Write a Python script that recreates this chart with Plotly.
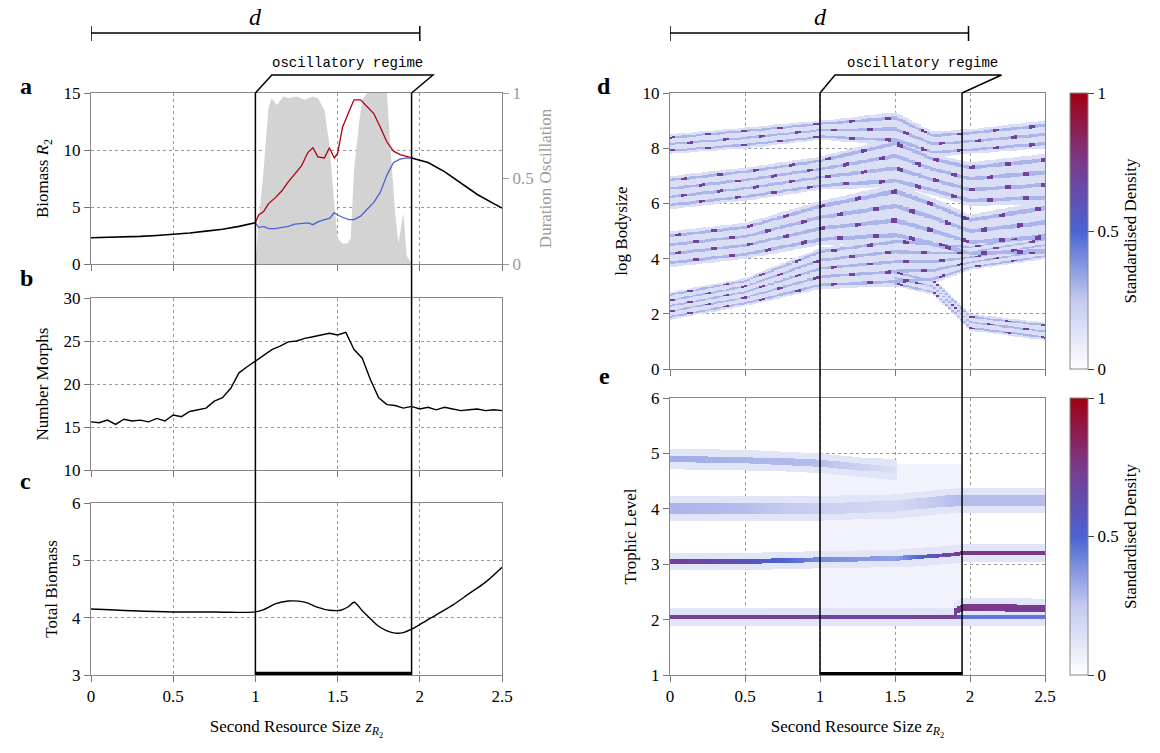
import numpy as np
import plotly.graph_objects as go

# ---------------- data ----------------
# panel a
a_x_left = [0, 0.1, 0.2, 0.3, 0.4, 0.5, 0.6, 0.7, 0.8, 0.9, 1.0]
a_y_left = [2.3, 2.33, 2.37, 2.42, 2.5, 2.6, 2.72, 2.88, 3.05, 3.3, 3.62]
a_x_mid = [1.0, 1.02, 1.05, 1.08, 1.12, 1.16, 1.2, 1.24, 1.28, 1.32, 1.35, 1.38, 1.42, 1.45, 1.48, 1.5,
           1.53, 1.57, 1.6, 1.64, 1.68, 1.72, 1.76, 1.8, 1.84, 1.88, 1.92, 1.95]
a_red = [3.62, 4.3, 4.6, 5.3, 5.8, 6.4, 7.2, 7.9, 8.6, 9.8, 10.2, 9.4, 9.3, 10.2, 9.3, 9.7,
         12.0, 13.4, 14.4, 14.4, 13.8, 13.2, 12.0, 10.7, 9.9, 9.6, 9.45, 9.3]
a_blue = [3.62, 3.2, 3.3, 3.1, 3.1, 3.2, 3.3, 3.5, 3.55, 3.6, 3.45, 3.7, 3.9, 4.0, 4.5, 4.3,
          4.1, 3.9, 3.9, 4.2, 4.8, 5.4, 6.3, 7.8, 8.9, 9.2, 9.3, 9.3]
a_x_right = [1.95, 2.05, 2.15, 2.25, 2.35, 2.45, 2.5]
a_y_right = [9.3, 8.9, 8.1, 7.1, 6.1, 5.3, 4.9]
osc_x = [1.0, 1.02, 1.05, 1.08, 1.1, 1.13, 1.17, 1.2, 1.25, 1.3, 1.35, 1.38, 1.42, 1.45, 1.48, 1.5,
         1.53, 1.56, 1.58, 1.6, 1.63, 1.65, 1.68, 1.74, 1.8, 1.82, 1.85, 1.87, 1.9, 1.92, 1.95]
osc_y = [0.0, 0.25, 0.55, 0.92, 0.97, 0.93, 0.98, 0.97, 0.98, 0.96, 0.98, 0.97, 0.9, 0.7, 0.35, 0.15,
         0.12, 0.12, 0.15, 0.55, 0.82, 0.96, 1.0, 1.0, 1.0, 0.7, 0.3, 0.12, 0.3, 0.05, 0.0]

# panel b
b_x = [round(0.05 * i, 2) for i in range(51)]
b_y = [15.6, 15.5, 15.8, 15.3, 15.9, 15.7, 15.8, 15.6, 16.0, 15.7, 16.4, 16.2, 16.8, 17.0, 17.2, 18.0,
       18.4, 19.5, 21.3, 22.0, 22.7, 23.4, 24.0, 24.4, 24.9, 25.0, 25.3, 25.5, 25.7, 25.9, 25.7, 26.0,
       24.0, 23.0, 20.5, 18.4, 17.6, 17.5, 17.2, 17.4, 17.1, 17.3, 17.0, 17.3, 17.1, 16.9, 17.0, 17.1,
       16.9, 17.0, 16.9]

# panel c
c_x = [0, 0.25, 0.5, 0.75, 1.0, 1.05, 1.12, 1.2, 1.3, 1.38, 1.45, 1.52, 1.57, 1.6, 1.65, 1.7, 1.75,
       1.8, 1.85, 1.9, 1.95, 2.0, 2.1, 2.2, 2.3, 2.4, 2.5]
c_y = [4.15, 4.12, 4.1, 4.1, 4.1, 4.14, 4.24, 4.29, 4.27, 4.18, 4.13, 4.13, 4.2, 4.27, 4.12, 3.98, 3.85,
       3.77, 3.73, 3.74, 3.8, 3.88, 4.05, 4.22, 4.42, 4.62, 4.88]

# panel d: band boundaries (log bodysize) at knots
d_knots = [0, 0.5, 1.0, 1.5, 1.75, 2.0, 2.5]
d_bands_lo = [[7.8, 8.0, 8.3, 8.1, 7.7, 7.8, 8.0],
              [5.8, 6.1, 6.5, 6.6, 6.3, 5.9, 6.0],
              [3.7, 4.0, 4.5, 4.6, 4.3, 4.0, 4.0],
              [1.8, 2.3, 2.9, 3.0, 3.1, 3.6, 4.0],
              [np.nan, np.nan, np.nan, 3.0, 2.7, 1.4, 1.05]]
d_bands_hi = [[8.5, 8.75, 9.0, 9.3, 8.6, 8.7, 9.0],
              [7.0, 7.3, 7.7, 8.4, 7.8, 7.5, 7.8],
              [5.0, 5.3, 6.1, 6.7, 6.2, 5.6, 6.1],
              [2.8, 3.3, 4.4, 4.8, 4.7, 4.5, 5.0],
              [np.nan, np.nan, np.nan, 3.6, 3.3, 2.0, 1.7]]
d_lines = [3, 4, 4, 5, 3]

# panel e: trophic level bands
e_knots = [0, 0.5, 1.0, 1.5, 1.9, 1.95, 2.5]
e_centres = [[2.05, 2.05, 2.05, 2.05, 2.05, 2.05, 2.05],
             [np.nan, np.nan, np.nan, np.nan, 2.15, 2.22, 2.2],
             [3.05, 3.05, 3.08, 3.1, 3.18, 3.2, 3.2],
             [4.0, 4.0, 4.0, 4.05, 4.15, 4.15, 4.15],
             [4.9, 4.88, 4.82, 4.7, np.nan, np.nan, np.nan]]
e_halfw = [0.04, 0.06, 0.04, 0.1, 0.06]
e_level = [[0.72, 0.72, 0.68, 0.68, 0.72, 0.45, 0.45],
           [np.nan, np.nan, np.nan, np.nan, 0.72, 0.76, 0.72],
           [0.72, 0.6, 0.4, 0.35, 0.72, 0.76, 0.76],
           [0.3, 0.28, 0.22, 0.18, 0.28, 0.28, 0.28],
           [0.32, 0.3, 0.28, 0.15, np.nan, np.nan, np.nan]]
e_cloud_x = [1.0, 1.95]
e_cloud_y = [2.1, 4.8]

# ---------------- grids ----------------
gx = np.linspace(0, 2.5, 126)
gyd = np.linspace(0, 10, 401)
zd = np.full((len(gyd), len(gx)), np.nan)
for b, (lo, hi, nl) in enumerate(zip(d_bands_lo, d_bands_hi, d_lines)):
    lo = np.array(lo, float); hi = np.array(hi, float)
    ok = ~np.isnan(lo)
    kx = np.array(d_knots)[ok]
    for j, x in enumerate(gx):
        if x < kx.min() - 1e-9:
            continue
        l = np.interp(x, kx, lo[ok]); h = np.interp(x, kx, hi[ok])
        inside = (gyd >= l) & (gyd <= h)
        pos = (gyd - l) / (h - l) * nl
        k = np.floor(pos)
        frac = pos % 1.0
        stripe = np.abs(frac - 0.5) < 0.16
        red = stripe & (((j // 2 + 3 * k + b) % 6) == 0)
        val = np.where(red, 0.7, np.where(stripe, 0.3, 0.15))
        col = zd[:, j]
        zd[inside, j] = np.fmax(col[inside], val[inside])

gye = np.linspace(1, 6, 301)
ze = np.full((len(gye), len(gx)), np.nan)
for j, x in enumerate(gx):
    if e_cloud_x[0] <= x <= e_cloud_x[1]:
        m = (gye >= e_cloud_y[0]) & (gye <= e_cloud_y[1])
        ze[m, j] = 0.06
for c, hw, lv in zip(e_centres, e_halfw, e_level):
    c = np.array(c, float); lv = np.array(lv, float)
    ok = ~np.isnan(c)
    kx = np.array(e_knots)[ok]
    for j, x in enumerate(gx):
        if x < kx.min() - 1e-9 or x > kx.max() + 1e-9:
            continue
        cc = np.interp(x, kx, c[ok]); vv = np.interp(x, kx, lv[ok])
        core = np.abs(gye - cc) <= hw
        halo = (np.abs(gye - cc) <= hw + 0.12) & ~core
        ze[core, j] = np.fmax(ze[core, j], vv)
        ze[halo, j] = np.fmax(ze[halo, j], 0.12)

cs = [[0, "#ffffff"], [0.25, "#c3c9f0"], [0.5, "#4a63d2"], [0.75, "#7a3a8c"], [1, "#a00012"]]

FONT = "Liberation Serif"
GRID = "#999999"
fig = go.Figure()

# panel a
fig.add_trace(go.Scatter(x=osc_x, y=[v * 15 for v in osc_y], fill="tozeroy", mode="none",
                         fillcolor="#d3d3d3", xaxis="x", yaxis="y", showlegend=False))
fig.add_trace(go.Scatter(x=a_x_mid, y=a_red, mode="lines", line=dict(color="#b00010", width=1.3),
                         xaxis="x", yaxis="y", showlegend=False))
fig.add_trace(go.Scatter(x=a_x_mid, y=a_blue, mode="lines", line=dict(color="#4a63d2", width=1.3),
                         xaxis="x", yaxis="y", showlegend=False))
fig.add_trace(go.Scatter(x=a_x_left, y=a_y_left, mode="lines", line=dict(color="black", width=1.6),
                         xaxis="x", yaxis="y", showlegend=False))
fig.add_trace(go.Scatter(x=a_x_right, y=a_y_right, mode="lines", line=dict(color="black", width=1.6),
                         xaxis="x", yaxis="y", showlegend=False))
fig.add_trace(go.Scatter(x=[0], y=[0], mode="none", xaxis="x", yaxis="y6", showlegend=False, hoverinfo="skip"))
# panel b, c
fig.add_trace(go.Scatter(x=b_x, y=b_y, mode="lines", line=dict(color="black", width=1.4),
                         xaxis="x2", yaxis="y2", showlegend=False))
fig.add_trace(go.Scatter(x=c_x, y=c_y, mode="lines", line=dict(color="black", width=1.4, shape="spline"),
                         xaxis="x3", yaxis="y3", showlegend=False))
fig.add_trace(go.Scatter(x=[1.0, 1.95], y=[3.02, 3.02], mode="lines", line=dict(color="black", width=4),
                         xaxis="x3", yaxis="y3", showlegend=False))
# panel d, e
fig.add_trace(go.Heatmap(x=gx, y=gyd, z=zd, coloraxis="coloraxis", xaxis="x4", yaxis="y4"))
fig.add_trace(go.Heatmap(x=gx, y=gye, z=ze, coloraxis="coloraxis2", xaxis="x5", yaxis="y5"))
fig.add_trace(go.Scatter(x=[1.0, 1.95], y=[1.02, 1.02], mode="lines", line=dict(color="black", width=4),
                         xaxis="x5", yaxis="y5", showlegend=False))

OFF = 8  # page body margin in the browser
def px(p):
    return (p - OFF) / 1160
def py(p):
    return 1 - (p - OFF) / 753
L = [px(91), px(502)]
R = [px(670), px(1045)]
dom = {"a": [py(264), py(93)], "b": [py(470), py(298)], "c": [py(675), py(503)],
       "d": [py(369), py(93)], "e": [py(675), py(398)]}

tf = dict(family=FONT, size=17, color="black")
titf = dict(family=FONT, size=17, color="black")
def xax(domain, anchor, labels, title=None):
    d = dict(domain=domain, anchor=anchor, range=[0, 2.5], tickvals=[0, 0.5, 1, 1.5, 2, 2.5],
             showticklabels=labels, ticks="outside", ticklen=6, tickcolor="#777", showgrid=True,
             gridcolor=GRID, griddash="dot", gridwidth=1, showline=True, linecolor="#888", mirror=True,
             zeroline=False, tickfont=tf, automargin=False)
    if title:
        d["title"] = dict(text=title, font=titf, standoff=14)
    return d
def yax(domain, anchor, rng, tv, title):
    return dict(domain=domain, anchor=anchor, range=rng, tickvals=tv, ticks="outside", ticklen=6,
                tickcolor="#777", showgrid=True, gridcolor=GRID, griddash="dot", showline=True,
                linecolor="#888", mirror=True, zeroline=False, tickfont=tf, automargin=False,
                title=dict(text=title, font=titf, standoff=10))

xt = "Second Resource Size <i>z</i><sub><i>R</i><sub>2</sub></sub>"
layout = dict(
    width=1160, height=753, margin=dict(l=0, r=0, t=0, b=0, autoexpand=False),
    plot_bgcolor="white", paper_bgcolor="white",
    font=dict(family=FONT, size=17, color="black"),
    xaxis=xax(L, "y", False), yaxis=yax(dom["a"], "x", [0, 15], [0, 5, 10, 15], "Biomass <i>R</i><sub>2</sub>"),
    yaxis6=dict(overlaying="y", side="right", anchor="x", range=[0, 1], tickvals=[0, 0.5, 1],
                ticktext=["0", "0.5", "1"], showgrid=False, ticks="outside", ticklen=6, tickcolor="#999",
                tickfont=dict(family=FONT, size=17, color="#999"), zeroline=False, automargin=False,
                title=dict(text="Duration Oscillation", font=dict(family=FONT, size=17, color="#999"), standoff=6)),
    xaxis2=xax(L, "y2", False), yaxis2=yax(dom["b"], "x2", [10, 30], [10, 15, 20, 25, 30], "Number Morphs"),
    xaxis3=xax(L, "y3", True, xt), yaxis3=yax(dom["c"], "x3", [3, 6], [3, 4, 5, 6], "Total Biomass"),
    xaxis4=xax(R, "y4", False), yaxis4=yax(dom["d"], "x4", [0, 10], [0, 2, 4, 6, 8, 10], "log Bodysize"),
    xaxis5=xax(R, "y5", True, xt), yaxis5=yax(dom["e"], "x5", [1, 6], [1, 2, 3, 4, 5, 6], "Trophic Level"),
)
for k, dm in (("coloraxis", "d"), ("coloraxis2", "e")):
    layout[k] = dict(cmin=0, cmax=1, colorscale=cs, colorbar=dict(
        x=px(1060), xanchor="left", thickness=18, len=dom[dm][1] - dom[dm][0], ypad=0,
        y=dom[dm][0], yanchor="bottom", tickvals=[0, 0.5, 1], ticktext=["0", "0.5", "1"],
        ticks="outside", ticklen=6, outlinecolor="#888", outlinewidth=1, tickfont=tf,
        title=dict(text="Standardised Density", side="right", font=titf)))
fig.update_layout(**layout)

shapes = []
ln = dict(color="black", width=1.5)
for xr, x0, x1, xb0, xb1 in (("x", 1.0, 1.95, 1.1, 2.08), ("x4", 1.0, 1.947, 1.1, 2.21)):
    top = dom["a"][1]
    for xv in (x0, x1):
        shapes.append(dict(type="line", xref=xr, yref="paper", x0=xv, x1=xv, y0=top, y1=py(675), line=ln))
    yb = py(75)
    shapes.append(dict(type="path", xref=xr, yref="paper",
                       path=f"M {x0},{top} L {xb0},{yb} L {xb1},{yb} L {x1},{top}", line=ln))
for xr, x1 in (("x", 2.0), ("x4", 1.99)):
    shapes.append(dict(type="line", xref=xr, yref="paper", x0=0, x1=x1, y0=py(33), y1=py(33), line=ln))
    for xv in (0, x1):
        shapes.append(dict(type="line", xref=xr, yref="paper", x0=xv, x1=xv, y0=py(26), y1=py(41), line=ln))
fig.update_layout(shapes=shapes)

ann = []
for xr, xm, xt2 in (("x", 1.0, 1.56), ("x4", 1.0, 1.68)):
    ann.append(dict(xref=xr, yref="paper", x=xm, y=py(32), yanchor="bottom", text="<i>d</i>", showarrow=False,
                    font=dict(family=FONT, size=24, color="black")))
    ann.append(dict(xref=xr, yref="paper", x=xt2, y=py(73), yanchor="bottom", text="oscillatory regime",
                    showarrow=False, font=dict(family="Liberation Mono", size=14, color="black")))
for t, xp, yp in (("a", 18, 71), ("b", 18, 278), ("c", 18, 481), ("d", 604, 71), ("e", 604, 376)):
    ann.append(dict(xref="paper", yref="paper", x=px(xp), y=py(yp), text=f"<b>{t}</b>", showarrow=False,
                    font=dict(family=FONT, size=24, color="black")))
fig.update_layout(annotations=ann)

fig.write_html("out.html")
